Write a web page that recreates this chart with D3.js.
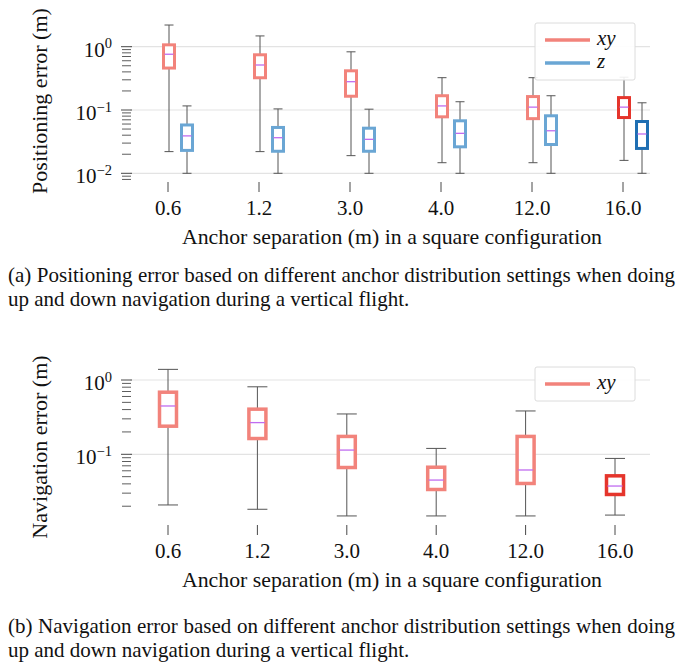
<!DOCTYPE html>
<html>
<head>
<meta charset="utf-8">
<script src="https://cdn.jsdelivr.net/npm/d3@7"></script>
<style>
  body { margin: 0; background: #fff; }
  text { font-family: "Liberation Serif", "DejaVu Serif", serif; fill: #111; }
</style>
</head>
<body>
<svg width="678" height="663"></svg>
<script>
// categories on the x axis (anchor separation, m)
const categories = ['0.6', '1.2', '3.0', '4.0', '12.0', '16.0'];

// five-number summaries [whisker low, q1, median, q3, whisker high]
const posXy = [
  [0.022, 0.46, 0.76, 1.07, 2.2],
  [0.022, 0.323, 0.514, 0.745, 1.48],
  [0.019, 0.165, 0.28, 0.416, 0.83],
  [0.0147, 0.078, 0.116, 0.168, 0.324],
  [0.0147, 0.073, 0.111, 0.163, 0.324],
  [0.016, 0.076, 0.111, 0.157, 0.33]
];
const posZ = [
  [0.01, 0.023, 0.039, 0.058, 0.116],
  [0.01, 0.0223, 0.0365, 0.053, 0.104],
  [0.01, 0.0223, 0.0344, 0.0516, 0.103],
  [0.01, 0.0262, 0.0428, 0.0675, 0.135],
  [0.01, 0.0285, 0.047, 0.081, 0.168],
  [0.01, 0.0247, 0.0418, 0.0658, 0.13]
];
const navXy = [
  [0.0208, 0.239, 0.447, 0.685, 1.39],
  [0.0182, 0.163, 0.267, 0.405, 0.81],
  [0.0148, 0.0664, 0.114, 0.174, 0.349],
  [0.0148, 0.0336, 0.045, 0.067, 0.12],
  [0.0148, 0.0405, 0.0615, 0.174, 0.383],
  [0.0152, 0.0288, 0.0374, 0.0513, 0.088]
];

// major tick exponents per panel
const posTicks = [0, -1, -2];
const navTicks = [0, -1];

const svg = d3.select('svg');

const red = {light: '#f2837b', dark: '#e5352c'};
const blue = {light: '#6aa6d4', dark: '#1f6fb3'};
const medianColor = '#c06cf0';

function panel(opts) {
  const g = svg.append('g');
  const x = d3.scalePoint().domain(categories).range(opts.xRange);
  const y = d3.scaleLog().domain(opts.yDomain).range(opts.yRange);
  const left = 130, right = 650;

  // gridlines at the decades
  g.selectAll('.grid')
    .data(opts.ticks)
    .join('line')
      .attr('x1', left).attr('x2', right)
      .attr('y1', d => y(Math.pow(10, d))).attr('y2', d => y(Math.pow(10, d)))
      .attr('stroke', '#e3e3e3').attr('stroke-width', 1.2);

  // minor ticks
  const minors = [];
  opts.ticks.concat([d3.min(opts.ticks) - 1]).forEach(e => {
    for (let k = 2; k <= 9; k++) {
      const v = k * Math.pow(10, e);
      if (v >= opts.minorMin && v < 1) minors.push(v);
    }
  });
  g.selectAll('.minor')
    .data(minors)
    .join('line')
      .attr('x1', 122).attr('x2', 131)
      .attr('y1', d => y(d)).attr('y2', d => y(d))
      .attr('stroke', '#333').attr('stroke-width', 0.8);

  // major ticks and labels
  g.selectAll('.major')
    .data(opts.ticks)
    .join('line')
      .attr('x1', 121).attr('x2', 132)
      .attr('y1', d => y(Math.pow(10, d))).attr('y2', d => y(Math.pow(10, d)))
      .attr('stroke', '#333').attr('stroke-width', 0.9);

  const lab = g.selectAll('.ylab')
    .data(opts.ticks)
    .join('text')
      .attr('x', 112)
      .attr('y', d => y(Math.pow(10, d)) + 10)
      .attr('text-anchor', 'end')
      .style('font-size', '21px');
  lab.append('tspan').text('10');
  lab.append('tspan')
    .attr('dy', -8.5)
    .style('font-size', '14.5px')
    .text(d => d === 0 ? '0' : '\u2212' + Math.abs(d));

  // x ticks
  g.selectAll('.xt')
    .data(categories)
    .join('line')
      .attr('x1', d => x(d)).attr('x2', d => x(d))
      .attr('y1', opts.xTickY).attr('y2', opts.xTickY + 10)
      .attr('stroke', '#333').attr('stroke-width', 0.9);
  g.selectAll('.xl')
    .data(categories)
    .join('text')
      .attr('x', d => x(d))
      .attr('y', opts.xTickY + 32.5)
      .attr('text-anchor', 'middle')
      .style('font-size', '21px')
      .text(d => d);

  // boxes
  opts.series.forEach(s => {
    const bg = g.append('g');
    s.data.forEach((d, i) => {
      const cx = x(categories[i]) + s.offset;
      const hw = s.width / 2;
      const col = i === categories.length - 1 ? s.color.dark : s.color.light;
      bg.append('line')
        .attr('x1', cx).attr('x2', cx)
        .attr('y1', y(d[0])).attr('y2', y(d[4]))
        .attr('stroke', '#555').attr('stroke-width', 1);
      [d[0], d[4]].forEach(v => {
        bg.append('line')
          .attr('x1', cx - s.cap / 2).attr('x2', cx + s.cap / 2)
          .attr('y1', y(v)).attr('y2', y(v))
          .attr('stroke', '#555').attr('stroke-width', 1);
      });
      bg.append('rect')
        .attr('x', cx - hw).attr('width', s.width)
        .attr('y', y(d[3])).attr('height', y(d[1]) - y(d[3]))
        .attr('fill', '#fff')
        .attr('stroke', col).attr('stroke-width', s.stroke);
      bg.append('line')
        .attr('x1', cx - hw + 1).attr('x2', cx + hw - 1)
        .attr('y1', y(d[2])).attr('y2', y(d[2]))
        .attr('stroke', medianColor).attr('stroke-width', 1.3);
    });
  });

  // axis titles
  g.append('text')
    .attr('transform', `translate(${opts.yTitleX},${opts.yTitleY}) rotate(-90)`)
    .attr('text-anchor', 'middle')
    .style('font-size', '22px')
    .text(opts.yTitle);
  g.append('text')
    .attr('x', 392)
    .attr('y', opts.xTickY + 62)
    .attr('text-anchor', 'middle')
    .style('font-size', '21.8px')
    .text('Anchor separation (m) in a square configuration');

  // legend
  const lg = g.append('g').attr('transform', `translate(535,${opts.legendY})`);
  const lh = 12 + opts.series.length * 23;
  lg.append('rect')
    .attr('width', 100).attr('height', lh - 1)
    .attr('rx', 2)
    .attr('fill', '#fff').attr('fill-opacity', 0.9)
    .attr('stroke', '#dcdcdc').attr('stroke-width', 1);
  opts.series.forEach((s, i) => {
    const ly = 17 + i * 23;
    lg.append('line')
      .attr('x1', 10).attr('x2', 55)
      .attr('y1', ly).attr('y2', ly)
      .attr('stroke', s.color.light).attr('stroke-width', 3.5);
    lg.append('text')
      .attr('x', 62).attr('y', ly + 5)
      .style('font-size', '21px').style('font-style', 'italic')
      .text(s.name);
  });
}

panel({
  xRange: [168, 623],
  yDomain: [0.01, 1],
  yRange: [173.3, 46.7],
  ticks: posTicks,
  minorMin: 0.008,
  xTickY: 182,
  yTitle: 'Positioning error (m)',
  yTitleX: 47, yTitleY: 101,
  legendY: 23,
  series: [
    {name: 'xy', data: posXy, offset: 1, width: 11, stroke: 3, cap: 9, color: red},
    {name: 'z', data: posZ, offset: 19, width: 11, stroke: 3, cap: 9, color: blue}
  ]
});

panel({
  xRange: [168, 615],
  yDomain: [0.1, 1],
  yRange: [454.3, 380],
  ticks: navTicks,
  minorMin: 0.02,
  xTickY: 525,
  yTitle: 'Navigation error (m)',
  yTitleX: 47, yTitleY: 447,
  legendY: 367,
  series: [
    {name: 'xy', data: navXy, offset: 0, width: 17, stroke: 3.5, cap: 20, color: red}
  ]
});

// captions; the first line of each is justified by word spacing
const captions = [
  {y: 282, t: '(a) Positioning error based on different anchor distribution settings when doing', w: 667},
  {y: 306, t: 'up and down navigation during a vertical flight.', w: 0},
  {y: 633, t: '(b) Navigation error based on different anchor distribution settings when doing', w: 667},
  {y: 657, t: 'up and down navigation during a vertical flight.', w: 0}
];
svg.selectAll('.cap')
  .data(captions)
  .join('text')
    .attr('x', 8)
    .attr('y', d => d.y)
    .style('font-size', '21px')
    .text(d => d.t)
    .each(function(d) {
      if (!d.w) return;
      const natural = this.getComputedTextLength();
      const spaces = d.t.split(' ').length - 1;
      d3.select(this).style('word-spacing', `${(d.w - natural) / spaces}px`);
    });
</script>
</body>
</html>
